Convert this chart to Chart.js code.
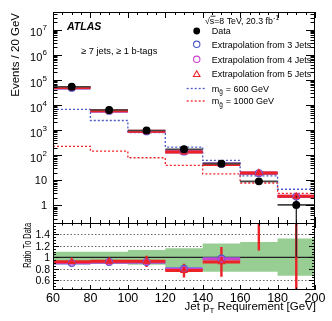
<!DOCTYPE html>
<html>
<head>
<meta charset="utf-8">
<script src="https://cdn.jsdelivr.net/npm/chart.js@4.4.1/dist/chart.umd.min.js"></script>
<style>
html,body{margin:0;padding:0;background:#fff;overflow:hidden}
canvas{display:block}
</style>
</head>
<body>
<canvas id="chart" width="332" height="321"></canvas>
<script>
// ---------------- data ----------------
const binEdges = [60, 80, 100, 120, 140, 160, 180, 200];
const binCenters = [70, 90, 110, 130, 150, 170, 190];
const dataEvents = [53000, 6300, 960, 173, 46, 9.1, 1.05];
const dataErrUp = [230, 80, 31, 13, 7, 2.6, 1.3];
const dataErrDown = [230, 80, 31, 13, 7, 2.6, 1.049];
const ext3Events = [47700, 5800, 885, 138, 45, 19.1, 2.25];
const ext4Events = [48200, 5800, 885, 137, 44.5, 19.4, 2.3];
const ext5Events = [49000, 5850, 890, 133, 43, 19.6, 2.3];
const ext5Err = [1000, 200, 40, 8, 4, 6, 0.7];
const gluino600 = [6700, 2400, 800, 210, 62, 15, 4.4];
const gluino1000 = [226, 144, 79, 39, 18, 7.8, 3.0];
const ratio3 = [0.90, 0.92, 0.92, 0.80, 0.98, 2.10, 2.20];
const ratio4 = [0.91, 0.92, 0.92, 0.79, 0.97, 2.12, 2.25];
const ratio5 = [0.925, 0.93, 0.93, 0.77, 0.92, 2.15, 2.30];
const ratio5Err = [0.02, 0.02, 0.10, 0.12, 0.26, 1.03, 2.1];
const dataRatioUp = [0, 0, 0, 0, 0, 0, 2.0];
const bandHigh = [1.10, 1.10, 1.13, 1.16, 1.24, 1.27, 1.33];
const bandLow = [0.89, 0.89, 0.87, 0.83, 0.75, 0.75, 0.68];
const refLevel = 1;
const logTickExponents = [0, 1, 2, 3, 4, 5, 6, 7];
const ratioTicks = [0.6, 0.8, 1, 1.2, 1.4];
const ratioTickLabels = ['0.6', '0.8', '1', '1.2', '1.4'];
const xTicks = [60, 80, 100, 120, 140, 160, 180, 200];
const xTickLabels = ['60', '80', '100', '120', '140', '160', '180', '200'];

// ---------------- styles ----------------
const RED = '#ec2227', BLUE = '#4a5bc6', MAG = '#cc44cc', GREEN = 'rgb(152,206,148)';
const FONT = '"Liberation Sans", Arial, Helvetica, sans-serif';

// ---------------- helpers building point lists ----------------
function hSeg(vals) {
  const p = [];
  vals.forEach((v, i) => { p.push({x: binEdges[i], y: v}, {x: binEdges[i + 1], y: v}, {x: binEdges[i + 1], y: null}); });
  return p;
}
function vSeg(center, lo, hi) {
  const p = [];
  center.forEach((c, i) => { if (hi[i] > lo[i]) p.push({x: c, y: lo[i]}, {x: c, y: hi[i]}, {x: c, y: null}); });
  return p;
}
function steps(vals) {
  const p = vals.map((v, i) => ({x: binEdges[i], y: v}));
  p.push({x: binEdges[vals.length], y: vals[vals.length - 1]});
  return p;
}
function pts(vals) { return vals.map((v, i) => ({x: binCenters[i], y: v})); }
const lineBase = {type: 'line', pointRadius: 0, fill: false, spanGaps: false, tension: 0};
const markBase = {type: 'line', showLine: false, borderWidth: 1.1, backgroundColor: 'rgba(0,0,0,0)'};

const dsList = [
  // ratio panel (bottom layers first)
  Object.assign({}, lineBase, {data: steps(bandHigh), stepped: 'before', borderWidth: 0, borderColor: 'rgba(0,0,0,0)', backgroundColor: GREEN, fill: '+1', yAxisID: 'yr'}),
  Object.assign({}, lineBase, {data: steps(bandLow), stepped: 'before', borderWidth: 0, borderColor: 'rgba(0,0,0,0)', yAxisID: 'yr'}),
  Object.assign({}, lineBase, {data: [{x: binEdges[0], y: refLevel}, {x: binEdges[binEdges.length - 1], y: refLevel}], borderColor: '#222', borderWidth: 1.3, yAxisID: 'yr'}),
  Object.assign({}, lineBase, {data: hSeg(ratio3), borderColor: BLUE, borderWidth: 3, yAxisID: 'yr'}),
  Object.assign({}, lineBase, {data: hSeg(ratio4), borderColor: MAG, borderWidth: 3, yAxisID: 'yr'}),
  Object.assign({}, lineBase, {data: hSeg(ratio5), borderColor: RED, borderWidth: 3, yAxisID: 'yr'}),
  Object.assign({}, lineBase, {data: vSeg(binCenters, ratio5.map((v, i) => v - ratio5Err[i]), ratio5.map((v, i) => v + ratio5Err[i])), borderColor: RED, borderWidth: 2.4, yAxisID: 'yr'}),
  Object.assign({}, lineBase, {data: vSeg(binCenters, dataRatioUp.map(() => refLevel), dataRatioUp.map(u => refLevel + u)), borderColor: '#222', borderWidth: 1.2, yAxisID: 'yr'}),
  Object.assign({}, markBase, {data: pts(ratio3), pointStyle: 'circle', pointRadius: 3.4, borderColor: BLUE, yAxisID: 'yr'}),
  Object.assign({}, markBase, {data: pts(ratio4), pointStyle: 'circle', pointRadius: 2.8, borderColor: MAG, yAxisID: 'yr'}),
  Object.assign({}, markBase, {data: pts(ratio5), pointStyle: 'triangle', pointRadius: 3.6, borderColor: RED, yAxisID: 'yr'}),
  // main panel
  Object.assign({}, lineBase, {data: steps(gluino1000), stepped: 'before', borderColor: RED, borderWidth: 1.3, borderDash: [2, 2], yAxisID: 'y'}),
  Object.assign({}, lineBase, {data: steps(gluino600), stepped: 'before', borderColor: BLUE, borderWidth: 1.3, borderDash: [2, 2], yAxisID: 'y'}),
  Object.assign({}, lineBase, {data: hSeg(ext3Events), borderColor: BLUE, borderWidth: 3, yAxisID: 'y'}),
  Object.assign({}, lineBase, {data: hSeg(ext4Events), borderColor: MAG, borderWidth: 3, yAxisID: 'y'}),
  Object.assign({}, lineBase, {data: hSeg(ext5Events), borderColor: RED, borderWidth: 3, yAxisID: 'y'}),
  Object.assign({}, lineBase, {data: hSeg(dataEvents), borderColor: '#444', borderWidth: 1.6, yAxisID: 'y'}),
  Object.assign({}, lineBase, {data: vSeg(binCenters, ext5Events.map((v, i) => v - ext5Err[i]), ext5Events.map((v, i) => v + ext5Err[i])), borderColor: RED, borderWidth: 2.2, yAxisID: 'y'}),
  Object.assign({}, lineBase, {data: vSeg(binCenters, dataEvents.map((v, i) => v - dataErrDown[i]), dataEvents.map((v, i) => v + dataErrUp[i])), borderColor: '#111', borderWidth: 1.2, yAxisID: 'y'}),
  Object.assign({}, markBase, {data: pts(ext3Events), pointStyle: 'circle', pointRadius: 3.4, borderColor: BLUE, yAxisID: 'y'}),
  Object.assign({}, markBase, {data: pts(ext4Events), pointStyle: 'circle', pointRadius: 2.8, borderColor: MAG, yAxisID: 'y'}),
  Object.assign({}, markBase, {data: pts(ext5Events), pointStyle: 'triangle', pointRadius: 3.6, borderColor: RED, yAxisID: 'y'}),
  Object.assign({}, markBase, {data: pts(dataEvents), pointStyle: 'circle', pointRadius: 3.4, borderColor: '#000', backgroundColor: '#000', yAxisID: 'y'})
];
// later in list = drawn on top
dsList.forEach((d, i) => { d.order = dsList.length - i; });

// ---------------- drawing plugin (frame, ticks, labels, legend) ----------------
function line(ctx, x1, y1, x2, y2) { ctx.beginPath(); ctx.moveTo(x1, y1); ctx.lineTo(x2, y2); ctx.stroke(); }

const atlasPlugin = {
  id: 'atlasStyle',
  beforeDatasetsDraw(chart) {
    const ctx = chart.ctx, xs = chart.scales.x, yr = chart.scales.yr;
    ctx.save();
    ctx.strokeStyle = '#555'; ctx.lineWidth = 0.9; ctx.setLineDash([1.5, 2]);
    ratioTicks.forEach(t => { if (t !== refLevel) { const y = Math.round(yr.getPixelForValue(t)) + 0.5; line(ctx, xs.left, y, xs.right, y); } });
    ctx.restore();
  },
  beforeDatasetDraw(chart, args) {
    const ctx = chart.ctx, xs = args.meta.xScale, ys = args.meta.yScale;
    ctx.save(); ctx.beginPath(); ctx.rect(xs.left, ys.top, xs.right - xs.left, ys.bottom - ys.top); ctx.clip();
  },
  afterDatasetDraw(chart) { chart.ctx.restore(); },
  afterDraw(chart) {
    const ctx = chart.ctx, xs = chart.scales.x, y = chart.scales.y, yr = chart.scales.yr;
    const L = xs.left, R = xs.right;
    ctx.save();
    ctx.strokeStyle = '#000'; ctx.lineWidth = 1; ctx.setLineDash([]);
    // frames
    ctx.strokeRect(L + 0.5, y.top + 0.5, R - L - 1, y.bottom - y.top);
    ctx.strokeRect(L + 0.5, yr.top + 0.5, R - L - 1, yr.bottom - yr.top - 1);
    // x ticks (every 5, major every 20)
    for (let v = binEdges[0]; v <= binEdges[binEdges.length - 1]; v += 5) {
      const px = Math.round(xs.getPixelForValue(v)) + 0.5;
      const major = xTicks.includes(v);
      const lm = major ? 6 : 3, lr = major ? 5 : 2.5;
      line(ctx, px, y.top, px, y.top + lm);
      line(ctx, px, y.bottom, px, y.bottom - lm);
      line(ctx, px, yr.top, px, yr.top + lr);
      line(ctx, px, yr.bottom, px, yr.bottom - lr);
    }
    // log y ticks
    logTickExponents.forEach(e => {
      for (let m = 1; m <= 9; m++) {
        const v = m * Math.pow(10, e);
        if (v > y.max || v < y.min) continue;
        const py = Math.round(y.getPixelForValue(v)) + 0.5;
        const len = m === 1 ? 9 : 4.5;
        line(ctx, L, py, L + len, py); line(ctx, R, py, R - len, py);
      }
    });
    [0.2, 0.3, 0.4, 0.5, 0.6, 0.7, 0.8, 0.9].forEach(f => {
      const py = Math.round(y.getPixelForValue(f)) + 0.5;
      line(ctx, L, py, L + 4.5, py); line(ctx, R, py, R - 4.5, py);
    });
    // ratio y ticks
    for (let v = 0.45; v <= 1.6; v += 0.05) {
      const vv = Math.round(v * 100) / 100;
      const py = Math.round(yr.getPixelForValue(vv)) + 0.5;
      const major = ratioTicks.some(t => Math.abs(t - vv) < 1e-6);
      const len = major ? 6 : 3;
      line(ctx, L, py, L + len, py); line(ctx, R, py, R - len, py);
    }
    // ---- tick labels ----
    ctx.fillStyle = '#000';
    ctx.textBaseline = 'alphabetic';
    logTickExponents.forEach(e => {
      const py = y.getPixelForValue(Math.pow(10, e));
      const xr = 47;
      if (e === 0 || e === 1) {
        ctx.font = '11px ' + FONT; ctx.textAlign = 'right';
        ctx.fillText(e === 0 ? '1' : '10', xr, py + 4);
      } else {
        ctx.font = '8px ' + FONT; ctx.textAlign = 'right';
        const sup = String(e); const ws = ctx.measureText(sup).width;
        ctx.fillText(sup, xr, py + 0.8);
        ctx.font = '11px ' + FONT;
        ctx.fillText('10', xr - ws - 0.3, py + 6.7);
      }
    });
    ctx.font = '10.5px ' + FONT; ctx.textAlign = 'right';
    ratioTicks.forEach((t, i) => { ctx.fillText(ratioTickLabels[i], 50, yr.getPixelForValue(t) + 3.8); });
    ctx.font = '12.5px ' + FONT; ctx.textAlign = 'center';
    xTicks.forEach((t, i) => { ctx.fillText(xTickLabels[i], xs.getPixelForValue(t), 302); });
    // ---- axis titles ----
    ctx.textAlign = 'left';
    const p1 = 'Jet p', p3 = ' Requirement [GeV]';
    ctx.font = '11.5px ' + FONT; const w1 = ctx.measureText(p1).width, w3 = ctx.measureText(p3).width;
    ctx.font = '8px ' + FONT; const w2 = ctx.measureText('T').width;
    let xt = 316 - (w1 + w2 + w3);
    ctx.font = '11.5px ' + FONT; ctx.fillText(p1, xt, 310);
    ctx.font = '8px ' + FONT; ctx.fillText('T', xt + w1, 313);
    ctx.font = '11.5px ' + FONT; ctx.fillText(p3, xt + w1 + w2, 310);
    // y titles
    ctx.save(); ctx.translate(19, 13); ctx.rotate(-Math.PI / 2);
    ctx.font = '11.5px ' + FONT; ctx.textAlign = 'right'; ctx.fillText('Events / 20 GeV', 0, 0); ctx.restore();
    ctx.save(); ctx.translate(30.5, 223); ctx.rotate(-Math.PI / 2); ctx.scale(0.74, 1);
    ctx.font = '10px ' + FONT; ctx.textAlign = 'right'; ctx.fillText('Ratio To Data', 0, 0); ctx.restore();
    // ---- ATLAS label ----
    ctx.textAlign = 'left';
    ctx.font = 'italic bold 10.5px ' + FONT; ctx.fillText('ATLAS', 67, 29.5);
    ctx.font = '9.3px ' + FONT; ctx.fillText('\u2265 7 jets, \u2265 1 b-tags', 81, 53.5);
    // ---- legend ----
    ctx.font = '8.8px ' + FONT;
    const hx = 205;
    ctx.fillText('\u221As=8 TeV, 20.3 fb', hx, 23.5);
    const wh = ctx.measureText('\u221As=8 TeV, 20.3 fb').width;
    ctx.font = '6.5px ' + FONT; ctx.fillText('-1', hx + wh + 0.5, 19.5);
    ctx.lineWidth = 0.8; line(ctx, hx + 5.5, 16.2, hx + 10.5, 16.2);
    const mx = 196.7, tx = 211.7;
    ctx.font = '9px ' + FONT;
    ctx.fillText('Data', tx, 34.2);
    ctx.fillText('Extrapolation from 3 Jets', tx, 47.5);
    ctx.fillText('Extrapolation from 4 Jets', tx, 62.5);
    ctx.fillText('Extrapolation from 5 Jets', tx, 77.2);
    [[91.5, BLUE], [104, RED]].forEach((it, k) => {
      const ty = it[0];
      ctx.fillStyle = '#000';
      ctx.font = '9px ' + FONT; ctx.fillText('m', tx, ty);
      const wm = ctx.measureText('m').width;
      ctx.font = '6.5px ' + FONT; ctx.fillText('g\u0303', tx + wm, ty + 2.5);
      const wg = ctx.measureText('g').width;
      ctx.font = '9px ' + FONT; ctx.fillText(k === 0 ? ' = 600 GeV' : ' = 1000 GeV', tx + wm + wg + 0.5, ty);
      ctx.strokeStyle = it[1]; ctx.lineWidth = 1.3; ctx.setLineDash([2, 2]);
      line(ctx, 186.7, ty - 3, 206, ty - 3);
      ctx.setLineDash([]);
    });
    ctx.fillStyle = '#000'; ctx.beginPath(); ctx.arc(mx, 31, 3.4, 0, 2 * Math.PI); ctx.fill();
    ctx.lineWidth = 1.1;
    ctx.strokeStyle = BLUE; ctx.beginPath(); ctx.arc(mx, 44.3, 3.2, 0, 2 * Math.PI); ctx.stroke();
    ctx.strokeStyle = MAG; ctx.beginPath(); ctx.arc(mx, 59.3, 3.2, 0, 2 * Math.PI); ctx.stroke();
    ctx.strokeStyle = RED; ctx.beginPath(); ctx.moveTo(mx, 70.8); ctx.lineTo(mx + 3.3, 76.5); ctx.lineTo(mx - 3.3, 76.5); ctx.closePath(); ctx.stroke();
    ctx.restore();
  }
};

const hiddenAxis = {ticks: {display: false}, grid: {display: false}, border: {display: false}};
new Chart(document.getElementById('chart'), {
  type: 'line',
  data: {datasets: dsList},
  options: {
    responsive: false, animation: false, devicePixelRatio: 1,
    layout: {padding: {top: 12, right: 17, left: 0, bottom: 0}},
    plugins: {legend: {display: false}, tooltip: {enabled: false}},
    scales: {
      x: Object.assign({type: 'linear', min: 60, max: 200, bounds: 'data', afterFit(s) { s.height = 31; }}, hiddenAxis),
      yr: Object.assign({type: 'linear', min: 0.43, max: 1.6, bounds: 'data', position: 'left', stack: 'panels', stackWeight: 67, afterFit(s) { s.width = 53; }}, hiddenAxis),
      y: Object.assign({type: 'logarithmic', min: 0.2, max: 5e7, bounds: 'data', position: 'left', stack: 'panels', stackWeight: 211, afterFit(s) { s.width = 53; }}, hiddenAxis)
    }
  },
  plugins: [atlasPlugin]
});
</script>
</body>
</html>
